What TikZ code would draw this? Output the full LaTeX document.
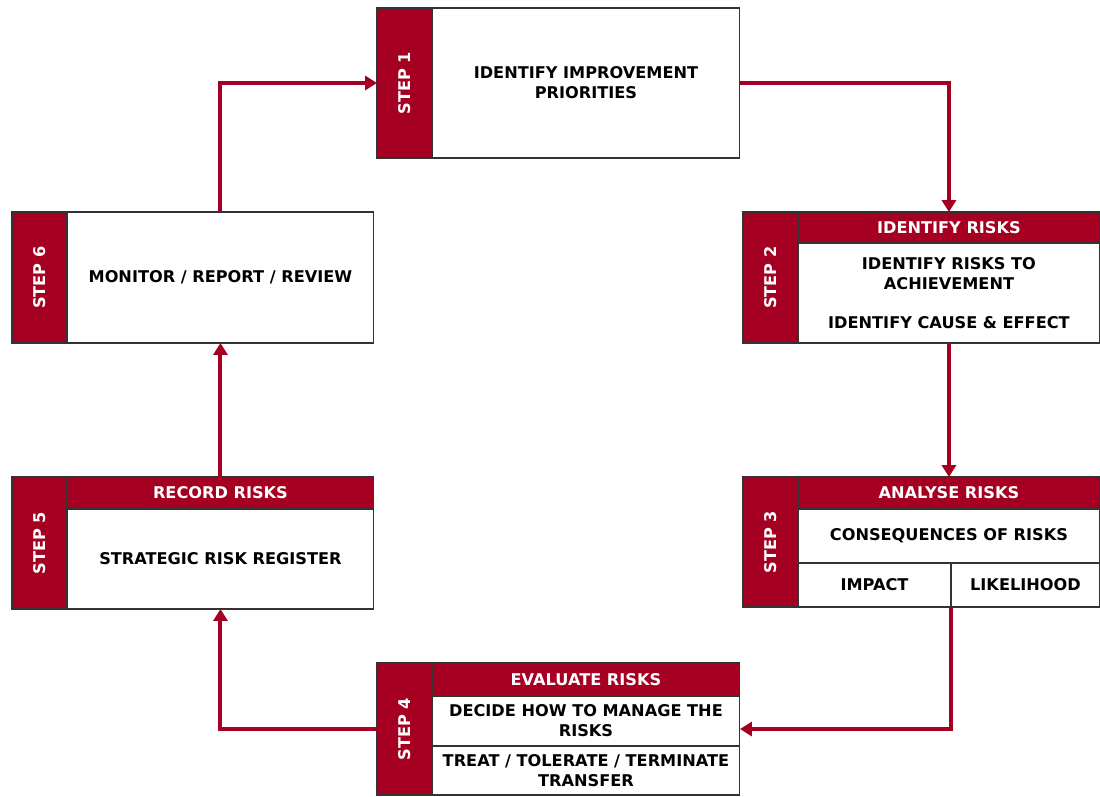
\documentclass[tikz,border=0pt]{standalone}
\usepackage{fontspec}
\setmainfont{DejaVu Sans}
\usepackage{graphicx}
\usetikzlibrary{arrows.meta}
\definecolor{stepred}{HTML}{A50021}
\definecolor{edge}{HTML}{333333}
\tikzset{
  cell/.style={draw=edge, line width=0.6pt, inner sep=0pt, outer sep=0pt, anchor=north west,
    align=center, font=\fontsize{9.2}{11.3}\selectfont\bfseries},
  strip/.style={cell, fill=stepred, text=white, minimum width=1.1cm},
  head/.style={cell, fill=stepred, text=white},
  body/.style={cell, fill=white, text=black},
  flow/.style={draw=stepred, line width=2.3pt, -{Triangle[length=6.8pt,width=8pt]}}
}
\begin{document}
\begin{tikzpicture}[x=0.02cm, y=-0.02cm]
        \useasboundingbox (0,0) rectangle (1100,796);
        \node[strip, minimum height=3cm] (strip1) at (377,8) {\rotatebox{90}{STEP 1}};
        \node[body, minimum width=6.16cm, minimum height=3cm] (body1) at (432,8) {IDENTIFY IMPROVEMENT\\PRIORITIES};
        \node[strip, minimum height=2.62cm] (strip2) at (743,212) {\rotatebox{90}{STEP 2}};
        \node[head, minimum width=6.04cm, minimum height=0.62cm] (head2) at (798,212) {IDENTIFY RISKS};
        \node[body, minimum width=6.04cm, minimum height=2cm] (body2) at (798,243) {IDENTIFY RISKS TO\\ACHIEVEMENT\\[11pt]IDENTIFY CAUSE \& EFFECT};
        \node[strip, minimum height=2.6cm] (strip3) at (743,477) {\rotatebox{90}{STEP 3}};
        \node[head, minimum width=6.04cm, minimum height=0.64cm] (head3) at (798,477) {ANALYSE RISKS};
        \node[body, minimum width=6.04cm, minimum height=1.08cm] (mid3) at (798,509) {CONSEQUENCES OF RISKS};
        \node[body, minimum width=3.06cm, minimum height=0.88cm] (imp3) at (798,563) {IMPACT};
        \node[body, minimum width=2.98cm, minimum height=0.88cm] (lik3) at (951,563) {LIKELIHOOD};
        \node[strip, minimum height=2.64cm] (strip4) at (377,663) {\rotatebox{90}{STEP 4}};
        \node[head, minimum width=6.16cm, minimum height=0.66cm] (head4) at (432,663) {EVALUATE RISKS};
        \node[body, minimum width=6.16cm, minimum height=1cm] (mid4) at (432,696) {DECIDE HOW TO MANAGE THE\\RISKS};
        \node[body, minimum width=6.16cm, minimum height=0.98cm] (bot4) at (432,746) {TREAT / TOLERATE / TERMINATE\\TRANSFER};
        \node[strip, minimum height=2.64cm] (strip5) at (12,477) {\rotatebox{90}{STEP 5}};
        \node[head, minimum width=6.14cm, minimum height=0.64cm] (head5) at (67,477) {RECORD RISKS};
        \node[body, minimum width=6.14cm, minimum height=2cm] (body5) at (67,509) {STRATEGIC RISK REGISTER};
        \node[strip, minimum height=2.62cm] (strip6) at (12,212) {\rotatebox{90}{STEP 6}};
        \node[body, minimum width=6.14cm, minimum height=2.62cm] (body6) at (67,212) {MONITOR / REPORT / REVIEW};
        \coordinate (e4) at (740,729);
        \draw[flow] (body1.east) -| (head2.north);
        \draw[flow] (body2.south) -- (head3.north);
        \draw[flow] (imp3.south east) |- (e4);
        \draw[flow] (strip4.west) -| (body5.south);
        \draw[flow] (head5.north) -- (body6.south);
        \draw[flow] (body6.north) |- (strip1.west);
        \end{tikzpicture}
\end{document}
